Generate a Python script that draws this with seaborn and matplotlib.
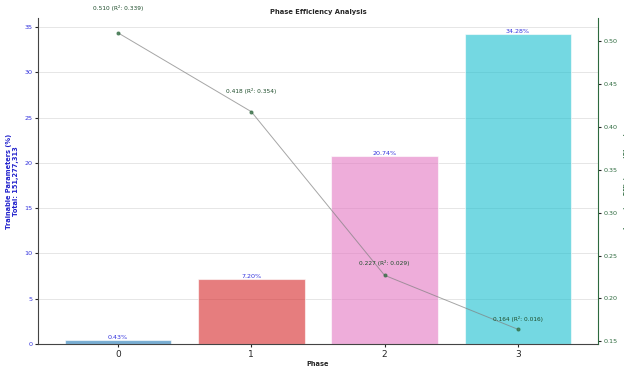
import numpy as np
import pandas as pd
import matplotlib
matplotlib.use("Agg")
import matplotlib.pyplot as plt
import seaborn as sns

# data
phases = [0, 1, 2, 3]
trainable_pct = [0.43, 7.20, 20.74, 34.28]
efficiency = [0.510, 0.418, 0.227, 0.164]
r_squared = [0.339, 0.354, 0.029, 0.016]
total_params = 151277313
bar_colors = ["tab:blue", "tab:red", "tab:pink", "tab:cyan"]

sns.set_style("white")
plt.rcParams['font.family'] = ['DejaVu Sans']

df = pd.DataFrame({"phase": phases, "pct": trainable_pct,
                   "eff": efficiency, "r2": r_squared})

fig, ax = plt.subplots(figsize=(6.24, 3.68), dpi=100)
fig.subplots_adjust(left=0.061, right=0.958, top=0.951, bottom=0.065)

sns.barplot(data=df, x="phase", y="pct", hue="phase", palette=bar_colors,
            saturation=1, alpha=0.6, edgecolor="white", linewidth=0.8,
            legend=False, ax=ax)
ax.set_ylim(0, max(trainable_pct) * 1.05)

for i, v in enumerate(trainable_pct):
    ax.text(i, v, f"{v:.2f}%", ha="center", va="bottom", fontsize=4.6, color="#3333dd")

ax.set_xlabel("Phase", fontsize=4.8, fontweight="bold", labelpad=2)
ax.set_ylabel(f"Trainable Parameters (%)\nTotal: {total_params:,}", fontsize=4.8,
              fontweight="bold", color="#2222cc", labelpad=4)
ax.tick_params(axis="y", labelsize=4.6, labelcolor="#3333dd", length=2, pad=2, left=True)
ax.tick_params(axis="x", labelsize=6.5, length=2, pad=2, bottom=True)
ax.yaxis.grid(True, color="#e6e6e6", linewidth=0.7)
ax.set_axisbelow(True)
ax.spines["top"].set_visible(False)
ax.spines["right"].set_visible(False)
ax.spines["left"].set_color("#444444")
ax.spines["bottom"].set_color("#444444")
ax.set_title("Phase Efficiency Analysis", fontsize=4.9, fontweight="bold", pad=3)

ax2 = ax.twinx()
sns.lineplot(data=df, x="phase", y="eff", color="gray", alpha=0.7, linewidth=0.7,
             marker="o", markersize=2.2, markerfacecolor="#2d6a3e",
             markeredgecolor="#2d6a3e", ax=ax2)
for x, v, r in zip(phases, efficiency, r_squared):
    ax2.text(x, v * 1.05, f"{v:.3f} (R²: {r:.3f})", ha="center", va="bottom",
             fontsize=4.2, color="#1e4d2b")
ax2.set_ylabel("Learning Efficiency (Slope)", fontsize=4.6, fontweight="bold",
               color="#2d6a3e", labelpad=4.5)
ax2.tick_params(axis="y", labelsize=4.6, labelcolor="#2d6a3e", length=2, pad=2, right=True)
ax2.spines["top"].set_visible(False)
ax2.spines["left"].set_visible(False)
ax2.spines["bottom"].set_visible(False)
ax2.spines["right"].set_color("#2d6a3e")
ax2.set_xlim(-0.6, 3.6)
ax.set_xlim(-0.6, 3.6)

fig.savefig("out.png", dpi=100)
